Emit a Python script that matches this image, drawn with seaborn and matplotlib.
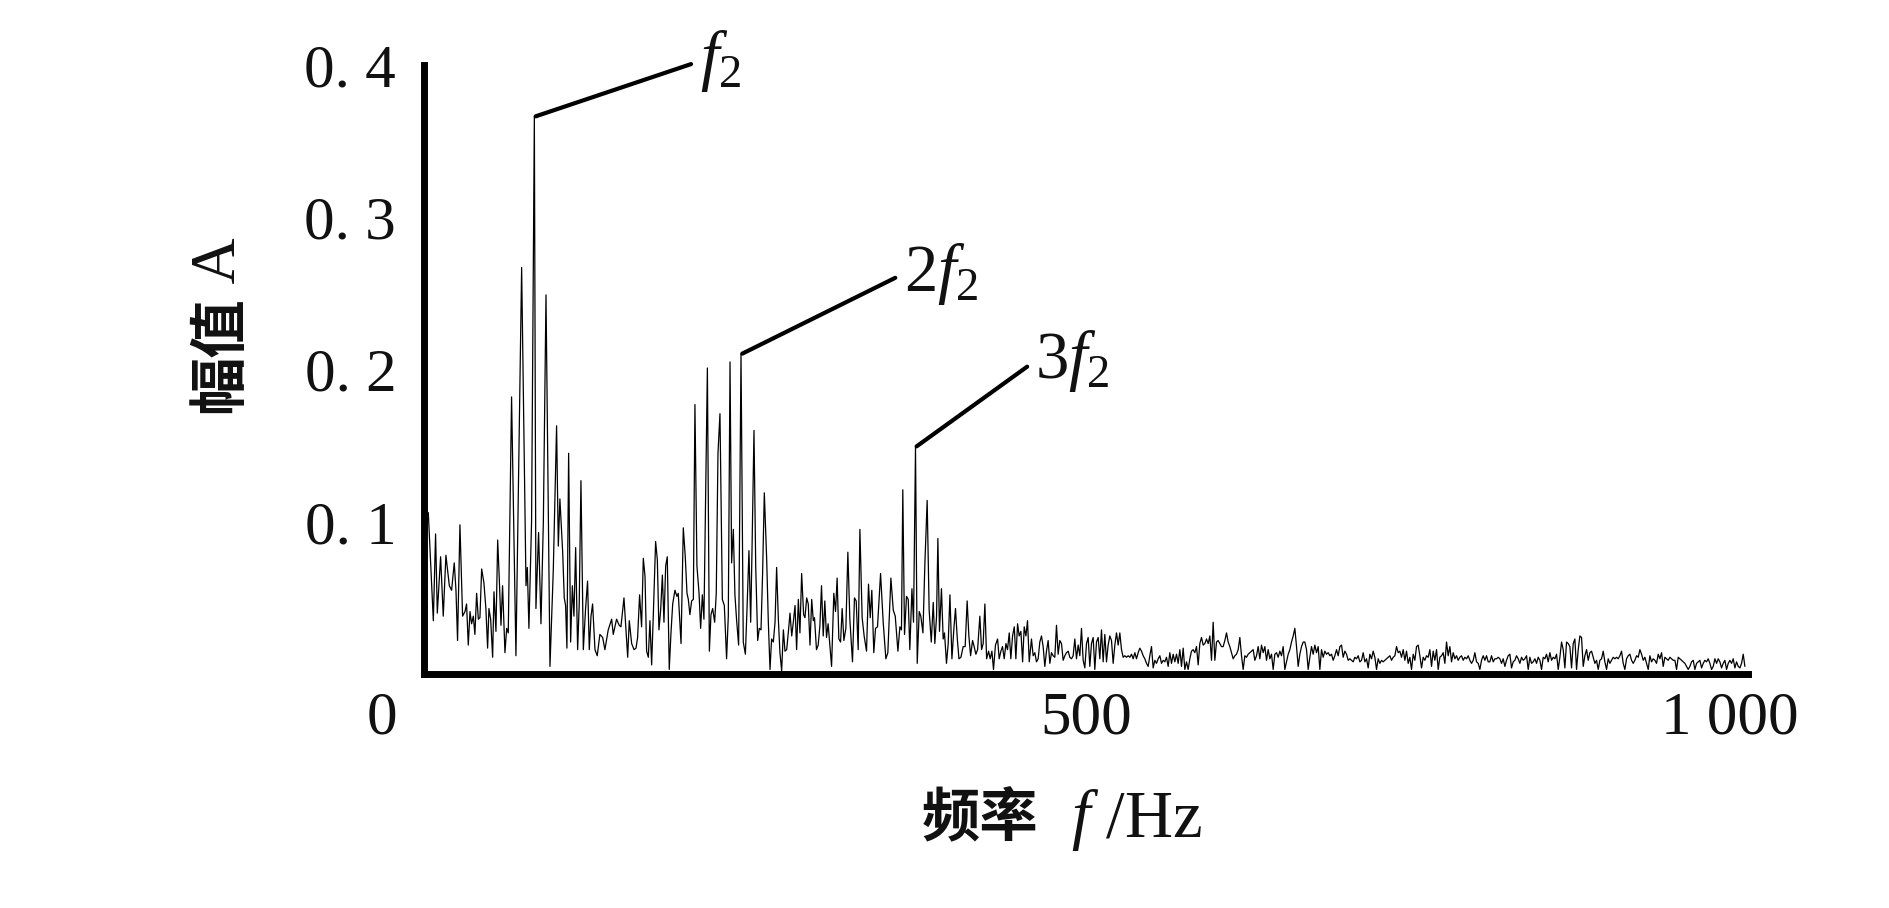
import matplotlib
matplotlib.use('Agg')
import matplotlib.pyplot as plt
from matplotlib.transforms import ScaledTranslation
import seaborn as sns
import numpy as np
import pandas as pd

# spectrum, 0-148 Hz (f2 cluster)
seg1_freq = [0, 3.3, 7.1, 8.8, 10.1, 12.6, 14.6, 16.6, 19.2, 20.9, 22.9, 24.2, 25.4, 27.2, 29.2,
             31.0, 32.2, 33.5, 34.8, 36.0, 37.3, 38.5, 39.8, 41.1, 42.3, 43.6, 45.3, 46.8, 48.1, 49.1,
             50.4, 51.9, 52.9, 54.4, 55.7, 56.9, 58.2, 59.4, 61.2, 62.5, 63.7, 66.2, 69.5, 73.8, 77.1,
             78.1, 79.3, 81.3, 83.4, 84.6, 86.6, 88.4, 90.2, 92.2, 95.2, 97.7, 100.2, 101.5, 102.7, 104.8,
             106.0, 107.0, 108.0, 109.3, 110.8, 112.1, 113.3, 114.6, 116.1, 117.3, 118.6, 120.4, 122.1,
             123.6, 124.9, 126.2, 127.4, 129.2, 130.9, 132.9, 135.0, 136.7, 139.2, 141.8, 143.0, 145.5, 147.5]
seg1_amp = [0.102, 0.106, 0.035, 0.092, 0.040, 0.077, 0.038, 0.078, 0.058, 0.055, 0.073, 0.055, 0.022,
            0.098, 0.038, 0.041, 0.046, 0.019, 0.041, 0.033, 0.038, 0.026, 0.053, 0.036, 0.037, 0.069,
            0.060, 0.043, 0.017, 0.043, 0.036, 0.011, 0.054, 0.028, 0.088, 0.063, 0.032, 0.058, 0.014,
            0.030, 0.027, 0.182, 0.012, 0.267, 0.058, 0.070, 0.030, 0.100, 0.366, 0.043, 0.093, 0.033,
            0.100, 0.249, 0.005, 0.068, 0.163, 0.084, 0.115, 0.080, 0.050, 0.045, 0.017, 0.145, 0.021,
            0.058, 0.038, 0.083, 0.016, 0.046, 0.127, 0.016, 0.043, 0.061, 0.016, 0.038, 0.046, 0.016,
            0.012, 0.026, 0.024, 0.016, 0.029, 0.036, 0.026, 0.036, 0.032]

# 148-295 Hz (2f2 cluster)
seg2_freq = [148.8, 151.1, 153.9, 155.1, 156.9, 158.7, 160.2, 161.4, 162.9, 164.4, 165.7, 167.0, 168.2,
             169.5, 170.7, 172.0, 173.3, 175.0, 176.3, 177.5, 178.8, 180.1, 181.3, 182.6, 183.8, 185.3,
             186.6, 187.9, 189.6, 191.1, 192.1, 194.2, 195.9, 197.4, 198.7, 199.7, 200.9, 202.2, 203.5,
             204.7, 206.2, 207.8, 209.0, 210.3, 211.5, 214.1, 215.6, 216.8, 218.1, 219.6, 220.8, 222.1,
             223.6, 225.4, 226.9, 228.6, 229.9, 231.2, 232.4, 233.7, 234.9, 236.2, 237.7, 239.5, 241.2,
             242.8, 244.0, 245.5, 246.8, 247.8, 249.3, 250.6, 252.1, 253.3, 254.6, 255.8, 257.1, 258.9,
             260.1, 261.4, 262.6, 263.9, 265.2, 266.4, 267.7, 268.9, 270.2, 271.5, 272.7, 274.0, 275.2,
             276.5, 277.8, 279.0, 280.3, 281.5, 282.8, 284.0, 285.3, 286.8, 287.8, 289.1, 290.3, 291.6,
             292.9, 294.1]
seg2_amp = [0.031, 0.050, 0.011, 0.035, 0.020, 0.016, 0.017, 0.024, 0.052, 0.031, 0.076, 0.064, 0.015,
            0.011, 0.035, 0.006, 0.040, 0.087, 0.075, 0.029, 0.042, 0.065, 0.034, 0.071, 0.077, 0.003,
            0.027, 0.046, 0.055, 0.051, 0.053, 0.020, 0.096, 0.077, 0.053, 0.049, 0.039, 0.048, 0.049,
            0.177, 0.071, 0.053, 0.030, 0.052, 0.036, 0.201, 0.015, 0.039, 0.043, 0.034, 0.053, 0.145,
            0.171, 0.049, 0.045, 0.010, 0.038, 0.205, 0.073, 0.095, 0.052, 0.035, 0.019, 0.210, 0.021,
            0.013, 0.042, 0.081, 0.034, 0.081, 0.160, 0.071, 0.022, 0.030, 0.029, 0.066, 0.119, 0.075,
            0.035, 0.003, 0.023, 0.021, 0.034, 0.070, 0.036, 0.014, 0.002, 0.029, 0.015, 0.016, 0.027,
            0.040, 0.025, 0.034, 0.045, 0.016, 0.049, 0.027, 0.066, 0.039, 0.037, 0.050, 0.046, 0.019,
            0.049, 0.035]

# 295-458 Hz (3f2 cluster)
seg3_freq = [295.0, 296.5, 297.8, 299.1, 300.3, 301.6, 302.8, 304.1, 305.3, 306.6, 307.9, 309.6, 310.9,
             312.1, 313.4, 314.7, 315.9, 317.2, 318.7, 320.2, 321.7, 323.7, 325.2, 326.5, 328.0, 329.3,
             331.0, 332.5, 334.3, 335.8, 337.1, 338.3, 339.8, 341.1, 342.6, 344.9, 346.9, 348.9, 350.4,
             352.7, 354.5, 356.0, 358.0, 359.5, 360.7, 361.7, 363.0, 364.5, 365.8, 367.0, 368.6, 369.8,
             371.3, 372.6, 374.1, 375.3, 376.9, 378.4, 380.1, 381.6, 383.2, 384.7, 385.9, 387.2, 388.2,
             389.4, 390.9, 392.2, 393.2, 394.7, 396.0, 397.3, 398.8, 400.3, 401.5, 402.8, 404.1, 405.6,
             407.3, 408.8, 410.3, 411.6, 412.9, 414.4, 415.6, 416.9, 418.2, 419.9, 421.2, 422.4, 423.7,
             425.0, 426.5, 427.7, 429.0, 430.2, 431.7, 433.3, 434.5, 435.8, 437.0, 438.3, 439.6, 440.8,
             442.1, 443.3, 444.6, 445.9, 447.1, 448.4, 449.6, 450.9, 452.2, 453.4, 454.7, 455.9, 457.2]
seg3_amp = [0.037, 0.016, 0.019, 0.032, 0.058, 0.025, 0.048, 0.024, 0.033, 0.019, 0.005, 0.053, 0.041,
            0.063, 0.023, 0.021, 0.043, 0.022, 0.030, 0.080, 0.036, 0.008, 0.050, 0.048, 0.016, 0.095,
            0.037, 0.025, 0.015, 0.059, 0.037, 0.055, 0.014, 0.030, 0.031, 0.066, 0.034, 0.010, 0.014,
            0.063, 0.042, 0.038, 0.015, 0.031, 0.029, 0.121, 0.026, 0.051, 0.049, 0.016, 0.056, 0.034,
            0.149, 0.007, 0.041, 0.038, 0.027, 0.073, 0.114, 0.042, 0.021, 0.047, 0.020, 0.038, 0.089,
            0.028, 0.056, 0.023, 0.027, 0.007, 0.020, 0.052, 0.010, 0.030, 0.043, 0.024, 0.010, 0.011,
            0.018, 0.018, 0.048, 0.025, 0.012, 0.022, 0.018, 0.013, 0.016, 0.038, 0.016, 0.020, 0.046,
            0.010, 0.015, 0.010, 0.015, 0.003, 0.019, 0.023, 0.010, 0.015, 0.018, 0.010, 0.020, 0.016,
            0.027, 0.010, 0.025, 0.031, 0.010, 0.033, 0.025, 0.028, 0.008, 0.031, 0.025, 0.035, 0.008]

# low-level tail, sampled evenly from 458.9 Hz
tail_start = 458.9
tail_step = 1.259
tail_a = [0.023, 0.012, 0.014, 0.008, 0.010, 0.021, 0.025, 0.018, 0.005, 0.015,
          0.022, 0.007, 0.014, 0.012, 0.011, 0.032, 0.013, 0.022, 0.020, 0.009,
          0.012, 0.014, 0.015, 0.011, 0.010, 0.012, 0.023, 0.010, 0.019, 0.012,
          0.030, 0.009, 0.004, 0.020, 0.024, 0.005, 0.020, 0.024, 0.003, 0.021,
          0.024, 0.010, 0.029, 0.008, 0.026, 0.008, 0.019, 0.025, 0.022, 0.007,
          0.019, 0.027, 0.019, 0.027, 0.016, 0.011, 0.012, 0.011, 0.012, 0.011,
          0.013, 0.010, 0.014, 0.010, 0.014, 0.017, 0.015, 0.012, 0.010, 0.007,
          0.005, 0.012, 0.018, 0.004, 0.009, 0.007, 0.010, 0.012, 0.007, 0.009,
          0.008, 0.011, 0.005, 0.014, 0.007, 0.013, 0.008, 0.013, 0.007, 0.016,
          0.005, 0.017, 0.003, 0.008, 0.003, 0.010, 0.015, 0.016, 0.014, 0.018,
          0.006, 0.020, 0.024, 0.019, 0.020, 0.023, 0.020, 0.025, 0.009, 0.034,
          0.009, 0.021, 0.022, 0.020, 0.018, 0.018, 0.022, 0.027, 0.021, 0.018,
          0.014, 0.010, 0.012, 0.013, 0.016, 0.024, 0.012, 0.003, 0.012, 0.011,
          0.013, 0.014, 0.015, 0.016]
tail_b = [0.009, 0.012, 0.018, 0.010, 0.019, 0.014, 0.018, 0.009, 0.016, 0.010,
          0.013, 0.003, 0.013, 0.014, 0.011, 0.015, 0.012, 0.018, 0.003, 0.008,
          0.013, 0.016, 0.021, 0.025, 0.030, 0.018, 0.005, 0.013, 0.018, 0.021,
          0.021, 0.016, 0.003, 0.011, 0.018, 0.013, 0.019, 0.014, 0.018, 0.003,
          0.016, 0.011, 0.015, 0.013, 0.014, 0.012, 0.013, 0.009, 0.012, 0.016,
          0.012, 0.018, 0.019, 0.011, 0.015, 0.013, 0.009, 0.010, 0.009, 0.008,
          0.011, 0.010, 0.012, 0.008, 0.009, 0.014, 0.008, 0.010, 0.004, 0.013,
          0.010, 0.015, 0.011, 0.003, 0.010, 0.007, 0.009, 0.008, 0.009, 0.010,
          0.011, 0.012, 0.009, 0.011, 0.012, 0.018, 0.014, 0.015, 0.011, 0.016,
          0.009, 0.015, 0.007, 0.011, 0.003, 0.013, 0.009, 0.018, 0.019, 0.012,
          0.004, 0.011, 0.009, 0.012, 0.011, 0.016, 0.005, 0.015, 0.009, 0.016,
          0.003, 0.011, 0.012, 0.014, 0.007, 0.021, 0.012, 0.018, 0.008, 0.014,
          0.010, 0.012, 0.009, 0.011, 0.012, 0.009, 0.011, 0.010, 0.012, 0.009,
          0.007, 0.009, 0.014, 0.008, 0.007, 0.003, 0.009, 0.012, 0.009, 0.012,
          0.008, 0.008, 0.012, 0.008, 0.010, 0.010, 0.011]
tail_c = [0.010, 0.007, 0.010, 0.005, 0.009, 0.012, 0.013, 0.004, 0.008, 0.009,
          0.012, 0.010, 0.007, 0.011, 0.009, 0.010, 0.012, 0.003, 0.011, 0.007,
          0.008, 0.010, 0.007, 0.011, 0.009, 0.003, 0.011, 0.010, 0.013, 0.008,
          0.014, 0.009, 0.011, 0.010, 0.013, 0.003, 0.011, 0.021, 0.016, 0.004,
          0.021, 0.020, 0.018, 0.004, 0.020, 0.023, 0.003, 0.016, 0.025, 0.024,
          0.005, 0.012, 0.016, 0.009, 0.014, 0.015, 0.011, 0.007, 0.009, 0.003,
          0.009, 0.010, 0.015, 0.008, 0.003, 0.010, 0.007, 0.009, 0.011, 0.010,
          0.011, 0.010, 0.012, 0.015, 0.007, 0.003, 0.010, 0.012, 0.013, 0.009,
          0.007, 0.009, 0.012, 0.011, 0.016, 0.013, 0.009, 0.011, 0.007, 0.003,
          0.012, 0.008, 0.010, 0.009, 0.007, 0.013, 0.010, 0.014, 0.005, 0.011,
          0.010, 0.009, 0.011, 0.010, 0.009, 0.009, 0.003, 0.011, 0.010, 0.009,
          0.008, 0.007, 0.005, 0.003, 0.005, 0.008, 0.009, 0.003, 0.007, 0.008,
          0.009, 0.004, 0.007, 0.009, 0.008, 0.010, 0.007, 0.003, 0.005, 0.010,
          0.007, 0.010, 0.008, 0.004, 0.007, 0.009, 0.003, 0.007, 0.009, 0.007,
          0.010, 0.004, 0.008, 0.005, 0.004, 0.007, 0.013, 0.005]

x_ticks = [0, 500, 1000]
x_ticklabels = ['0', '500', '1 000']
y_ticks = [0.1, 0.2, 0.3, 0.4]
y_ticklabels = ['0. 1', '0. 2', '0. 3', '0. 4']

sns.set_theme(style='white')
plt.rcParams['font.family'] = ['Liberation Serif', 'Noto Sans CJK SC', 'DejaVu Sans']
plt.rcParams['mathtext.fontset'] = 'custom'
plt.rcParams['mathtext.rm'] = 'Liberation Serif'
plt.rcParams['mathtext.it'] = 'Liberation Serif:italic'

tail_amp = tail_a + tail_b + tail_c
tail_freq = tail_start + tail_step * np.arange(len(tail_amp))
freq = np.concatenate([seg1_freq, seg2_freq, seg3_freq, tail_freq])
amp = np.concatenate([seg1_amp, seg2_amp, seg3_amp, tail_amp])
df = pd.DataFrame({'freq': freq, 'amp': amp})

fig = plt.figure(figsize=(18.9, 9.08), dpi=100)
ax = fig.add_axes([0.2243, 0.2577, 0.7005, 0.6707])
sns.lineplot(data=df, x='freq', y='amp', ax=ax, color='black', linewidth=0.9,
             estimator=None, sort=False)

ax.set_xlim(0, 1000)
ax.set_ylim(0, 0.4)
for s in ['top', 'right']:
    ax.spines[s].set_visible(False)
for s in ['left', 'bottom']:
    ax.spines[s].set_linewidth(5)
    ax.spines[s].set_color('black')
    ax.spines[s].set_capstyle('projecting')

ax.set_yticks(y_ticks)
ax.set_yticklabels(y_ticklabels)
ax.set_xticks(x_ticks)
ax.set_xticklabels(x_ticklabels)
ax.tick_params(axis='y', direction='in', length=11, width=4.5, labelsize=44, pad=20,
               color='black', labelcolor='#111111')
ax.tick_params(axis='x', direction='in', length=10, width=3.5, labelsize=44, pad=12,
               color='black', labelcolor='#111111')
# origin label sits down-left of the corner, last one a bit inside the end
xlabs = ax.get_xticklabels()
xlabs[0].set_transform(xlabs[0].get_transform() + ScaledTranslation(-0.42, 0, fig.dpi_scale_trans))
xlabs[2].set_transform(xlabs[2].get_transform() + ScaledTranslation(-0.18, 0, fig.dpi_scale_trans))

ylab = ax.set_ylabel('幅值', fontsize=42, fontfamily=['Noto Sans CJK SC'],
                     fontweight='bold', color='#111111')
ax.yaxis.set_label_coords(-0.131, 0.525)
ax.annotate(' A', xy=(0.5, 1.0), xycoords=ylab, rotation=90, fontsize=46,
            ha='center', va='bottom', color='#111111')

xlab = ax.set_xlabel('频率', fontsize=42, fontfamily=['Noto Sans CJK SC'],
                     fontweight='bold', color='#111111')
ax.xaxis.set_label_coords(0.42, -0.19)
ax.annotate('  $f\\ /\\mathrm{Hz}$', xy=(1.0, 0.5), xycoords=xlab, fontsize=48,
            ha='left', va='center', color='#111111')

# harmonic labels with leader lines
freq_arr = np.asarray(freq)
amp_arr = np.asarray(amp)
def peak_in(lo, hi):
    m = (freq_arr >= lo) & (freq_arr <= hi)
    i = np.argmax(np.where(m, amp_arr, -1))
    return freq_arr[i], amp_arr[i]

harmonics = [('$f_2$', (20, 120), (119, 40)),
             ('$2f_2$', (200, 280), (117, 58)),
             ('$3f_2$', (330, 420), (86, 62))]
for txt, (lo, hi), off in harmonics:
    px, py = peak_in(lo, hi)
    ax.annotate(txt, xy=(px, py), xytext=off, textcoords='offset points',
                fontsize=48, ha='left', va='center', color='#111111',
                annotation_clip=False,
                arrowprops=dict(arrowstyle='-', lw=3, color='black',
                                shrinkA=4, shrinkB=1, relpos=(0, 0.5)))

fig.savefig('out.png', dpi=100)
